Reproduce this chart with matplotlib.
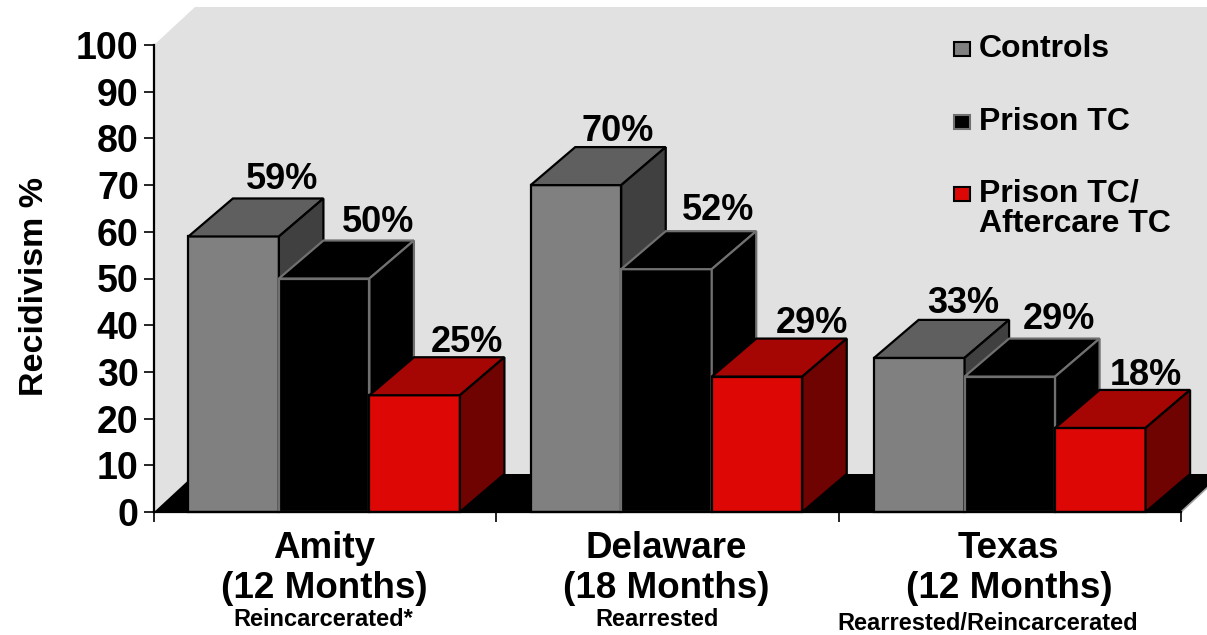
import matplotlib
matplotlib.use('Agg')
import matplotlib.pyplot as plt
from matplotlib.patches import Polygon, Rectangle

W, H = 1207, 635

groups = ['Amity\n(12 Months)', 'Delaware\n(18 Months)', 'Texas\n(12 Months)']
outcomes = ['Reincarcerated*', 'Rearrested', 'Rearrested/Reincarcerated']
series = ['Controls', 'Prison TC', 'Prison TC/\nAftercare TC']
controls = [59, 70, 33]
prison_tc = [50, 52, 29]
aftercare = [25, 29, 18]
yticks = list(range(0, 101, 10))

# front, top, side, edge
colors = [('#808080', '#5f5f5f', '#404040', '#000000'),
          ('#000000', '#000000', '#000000', '#707070'),
          ('#dd0806', '#a50604', '#6e0302', '#000000')]

# pixel tweaks for the value labels, they sit a bit unevenly in the original
label_dx = [[47, 53, 51], [41, 51, 54], [44, 49, 46]]
label_dy = [[47, 47, 43], [44, 49, 44], [45, 48, 43]]
group_dx = [-1, -1, 0]
outcome_x = [323, 657, 988]
outcome_y = [619, 619, 624]

plt.rcParams['font.family'] = ['Liberation Sans', 'DejaVu Sans']
plt.rcParams['font.weight'] = 'bold'

fig = plt.figure(figsize=(W / 100, H / 100), dpi=100)
ax = fig.add_axes([154 / W, 1 - 512 / H, 1027 / W, 467 / H])
ax.set_xlim(0, 3)
ax.set_ylim(0, 100)

px_x = 3 / 1027
px_y = 100 / 467
bar_w = 90.5 * px_x
dep_x = 44.5 * px_x
dep_y = 38 * px_y
wall_x = 41 * px_x
wall_y = 38 * px_y
wall_color = '#e1e1e1'


def add_poly(pts, face, edge='none', z=1):
    ax.add_patch(Polygon(pts, closed=True, facecolor=face, edgecolor=edge, linewidth=1.6,
                         joinstyle='miter', zorder=z, clip_on=False))


def bar3d(x, v, cols, z):
    front, top, side, edge = cols
    add_poly([(x, 0), (x + bar_w, 0), (x + bar_w, v), (x, v)], front, edge, z)
    add_poly([(x, v), (x + bar_w, v), (x + bar_w + dep_x, v + dep_y), (x + dep_x, v + dep_y)], top, edge, z)
    add_poly([(x + bar_w, 0), (x + bar_w + dep_x, dep_y), (x + bar_w + dep_x, v + dep_y), (x + bar_w, v)],
             side, edge, z)


# walls and floor
add_poly([(0, 0), (0, 100), (wall_x, 100 + wall_y), (3.2, 100 + wall_y), (3.2, wall_y), (wall_x, wall_y)], wall_color, z=0.5)
add_poly([(0, 0), (3, 0), (3 + wall_x, wall_y), (wall_x, wall_y)], '#000000', z=0.6)
ax.plot([3, 3 + wall_x], [0, wall_y], color='#a0a0a0', lw=1.2, zorder=0.7, clip_on=False)

values = [controls, prison_tc, aftercare]
z = 2
for g in range(len(groups)):
    start = g + 0.5 - 1.5 * bar_w + group_dx[g] * px_x
    for s in range(len(series)):
        x = start + s * bar_w
        bar3d(x, values[s][g], colors[s], z)
        z += 1
        ax.annotate(f'{values[s][g]}%', (g + 0.5 + (s - 1) * bar_w, values[s][g]),
                    xytext=(label_dx[g][s], label_dy[g][s]), textcoords='offset pixels',
                    ha='center', va='baseline', fontsize=26, fontweight='bold', zorder=50)

for s in ['top', 'right']:
    ax.spines[s].set_visible(False)
for s in ['left', 'bottom']:
    ax.spines[s].set_linewidth(1.6)
    ax.spines[s].set_zorder(40)
ax.set_yticks(yticks)
ax.set_yticklabels([str(t) for t in yticks], fontsize=27, fontweight='bold')
ax.set_xticks([0, 1, 2, 3])
ax.set_xticklabels([])
ax.tick_params(axis='both', length=7.5, width=1.2, direction='out', pad=3.5)

fig.text(35 / W, 1 - 287 / H, 'Recidivism %', rotation=90, ha='center', va='center', fontsize=24.5, fontweight='bold')

for g, label in enumerate(groups):
    ax.annotate(label, (g + 0.5, 0), xytext=(-1, -19), textcoords='offset pixels', ha='center', va='top',
                fontsize=26.5, fontweight='bold', linespacing=1.18)
    fig.text(outcome_x[g] / W, 1 - outcome_y[g] / H, outcomes[g], ha='center', va='center',
             fontsize=17, fontweight='bold')

# legend, done by hand because the swatch lines up with the first text line
swatch_y = [42, 115, 187]
text_y = [47, 120, 192]
for s, name in enumerate(series):
    fig.add_artist(Rectangle((954 / W, 1 - (swatch_y[s] + 14) / H), 16 / W, 14 / H, transform=fig.transFigure,
                             facecolor=colors[s][0], edgecolor=colors[s][3], linewidth=1.5))
    fig.text(979 / W, 1 - (text_y[s] - 13) / H, name, ha='left', va='top', fontsize=23, fontweight='bold',
             linespacing=1.0)

fig.savefig('out.png', dpi=100)
